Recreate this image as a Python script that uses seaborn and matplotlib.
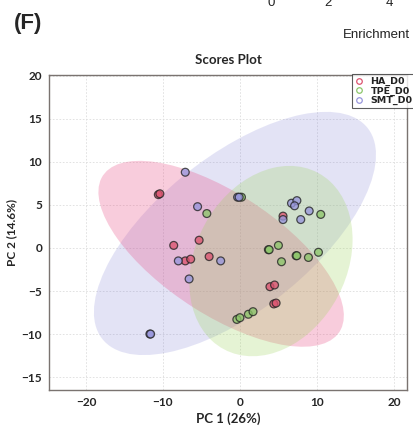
import numpy as np
import pandas as pd
import matplotlib
matplotlib.use("Agg")
import matplotlib.pyplot as plt
from matplotlib.patches import Ellipse
from matplotlib.lines import Line2D
import seaborn as sns

# PCA scores per group
ha_pc1 = [-10.6, -10.4, -8.6, -5.3, -7.1, -6.4, -4.0, 5.6, 3.9, 4.5, 4.4, 4.7]
ha_pc2 = [6.2, 6.3, 0.3, 0.9, -1.5, -1.3, -1.0, 3.7, -4.5, -4.3, -6.5, -6.4]

tpe_pc1 = [0.2, -4.3, 3.7, 3.8, 5.0, 5.4, 7.3, 7.4, 8.9, 10.2, 10.5, -0.4, 0.0, 1.1, 1.7]
tpe_pc2 = [5.9, 4.0, -0.2, -0.2, 0.3, -1.6, -0.9, -0.9, -1.1, -0.5, 3.9, -8.3, -8.1, -7.7, -7.4]

smt_pc1 = [-7.1, -0.3, -0.1, -5.5, 6.7, 7.4, 7.1, 5.6, 7.9, 9.0, -8.0, -2.5, -6.6, -11.7, -11.6]
smt_pc2 = [8.8, 5.9, 5.9, 4.8, 5.2, 5.5, 4.9, 3.3, 3.3, 4.3, -1.5, -1.5, -3.6, -10.0, -10.0]

groups = ["HA_D0", "TPE_D0", "SMT_D0"]
x_ticks = [-20, -10, 0, 10, 20]
y_ticks = [-15, -10, -5, 0, 5, 10, 15, 20]

point_colors = {"HA_D0": "#dc5470", "TPE_D0": "#8cc66a", "SMT_D0": "#9896dc"}
fill_colors = {"HA_D0": "#e8457f", "TPE_D0": "#9cd45a", "SMT_D0": "#7e7ed4"}
fill_alpha = {"HA_D0": 0.27, "TPE_D0": 0.26, "SMT_D0": 0.21}

df = pd.concat([
    pd.DataFrame({"PC1": ha_pc1, "PC2": ha_pc2, "group": "HA_D0"}),
    pd.DataFrame({"PC1": tpe_pc1, "PC2": tpe_pc2, "group": "TPE_D0"}),
    pd.DataFrame({"PC1": smt_pc1, "PC2": smt_pc2, "group": "SMT_D0"}),
], ignore_index=True)

sns.set_style("white")
plt.rcParams["font.family"] = ["Lato", "DejaVu Sans"]
plt.rcParams["axes.unicode_minus"] = True

fig = plt.figure(figsize=(4.14, 4.28), dpi=100)
ax = fig.add_axes([0.1184, 0.0888, 0.8646, 0.736])


def confidence_ellipse(x, y, level_r=2.4477, **kw):
    """95% confidence ellipse from the group covariance."""
    x = np.asarray(x)
    y = np.asarray(y)
    cov = np.cov(x, y)
    vals, vecs = np.linalg.eigh(cov)
    order = vals.argsort()[::-1]
    vals, vecs = vals[order], vecs[:, order]
    angle = np.degrees(np.arctan2(vecs[1, 0], vecs[0, 0]))
    w, h = 2 * level_r * np.sqrt(vals)
    return Ellipse((x.mean(), y.mean()), w, h, angle=angle, **kw)


for g in ["SMT_D0", "HA_D0", "TPE_D0"]:
    sub = df[df.group == g]
    ax.add_patch(confidence_ellipse(sub.PC1, sub.PC2, facecolor=fill_colors[g],
                                    edgecolor="none", alpha=fill_alpha[g], zorder=1))

sns.scatterplot(data=df, x="PC1", y="PC2", hue="group", hue_order=groups,
                palette=point_colors, s=32, alpha=0.78, edgecolor="#222222",
                linewidth=0.9, legend=False, ax=ax, zorder=3)

ax.set_xlim(-24.8, 21.7)
ax.set_ylim(-16.5, 20.1)
ax.set_xticks(x_ticks)
ax.set_yticks(y_ticks)
ax.set_xticklabels(["\u221220", "\u221210", "0", "10", "20"])
ax.set_yticklabels(["\u221215", "\u221210", "\u22125", "0", "5", "10", "15", "20"])
ax.tick_params(axis="both", labelsize=8.5, length=3, width=0.8, color="#777777", pad=2)
for lab in ax.get_xticklabels() + ax.get_yticklabels():
    lab.set_fontweight("bold")
ax.grid(True, linestyle=(0, (2, 2)), color="#dddddd", linewidth=0.6, zorder=0)
ax.set_axisbelow(True)
for sp in ax.spines.values():
    sp.set_color("#7a7370")
    sp.set_linewidth(1.0)

ax.set_xlabel("PC 1 (26%)", fontsize=9.5, fontweight="bold", labelpad=3)
ax.set_ylabel("PC 2 (14.6%)", fontsize=8.5, fontweight="bold", labelpad=3)
ax.set_title("Scores Plot", fontsize=9.5, fontweight="bold", pad=8)

handles = [Line2D([0], [0], marker="o", linestyle="none", markersize=4,
                  markerfacecolor="none", markeredgecolor=point_colors[g],
                  markeredgewidth=0.9, label=g) for g in groups]
leg = fig.legend(handles=handles, loc="upper right", bbox_to_anchor=(1.003, 0.826),
                 frameon=True, fancybox=False, handlelength=0.8,
                 handletextpad=0.8, borderpad=0.3, labelspacing=0.02,
                 borderaxespad=0.0,
                 prop={"weight": "bold", "size": 6.8, "family": "DejaVu Sans"})
leg.get_frame().set_edgecolor("#333333")
leg.get_frame().set_linewidth(0.8)
for t in leg.get_texts():
    t.set_color("#222222")

# neighbouring panel fragments
side = ["Liberation Sans", "DejaVu Sans"]
fig.text(0.034, 0.945, "(F)", fontsize=16, fontweight="bold", family=side,
         va="center", ha="left")
for xv, lbl in [(0.655, "0"), (0.793, "2"), (0.94, "4")]:
    fig.text(xv, 0.993, lbl, fontsize=9.5, family=side,
             ha="center", va="center", color="#222222")
fig.text(0.99, 0.918, "Enrichment", fontsize=9.5, family=side,
         ha="right", va="center", color="#222222")

fig.savefig("out.png", dpi=100)
